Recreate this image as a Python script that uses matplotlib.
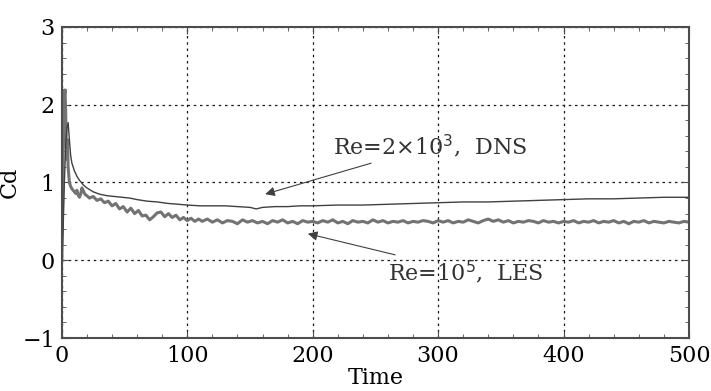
import numpy as np
import matplotlib
matplotlib.use('Agg')
import matplotlib.pyplot as plt
from matplotlib.ticker import MultipleLocator

# DNS, Re = 2x10^3
dns_t = [0, 1, 2, 3, 4, 5, 6, 7, 8, 10, 12, 14, 17, 20, 25, 30, 36, 42, 48, 54,
         60, 68, 76, 85, 93, 100, 110, 120, 130, 140, 150, 155, 160, 170, 180, 190,
         200, 220, 240, 260, 280, 300, 320, 340, 360, 380, 400, 420, 440, 460, 480, 500]
dns_cd = [0.0, 0.4, 1.0, 1.45, 1.7, 1.77, 1.55, 1.35, 1.25, 1.15, 1.08, 1.03, 0.97, 0.93, 0.88, 0.85, 0.83, 0.82, 0.81, 0.80,
          0.78, 0.76, 0.75, 0.73, 0.72, 0.71, 0.70, 0.70, 0.70, 0.69, 0.68, 0.66, 0.68, 0.69, 0.69, 0.70,
          0.70, 0.71, 0.71, 0.72, 0.73, 0.74, 0.75, 0.75, 0.76, 0.77, 0.78, 0.79, 0.79, 0.80, 0.81, 0.81]

# LES, Re = 10^5
les_t = [0, 0.5, 1, 1.5, 2, 2.5, 3, 3.5, 4, 4.5, 5, 6, 7, 8, 9, 10, 11, 12, 13, 14, 15, 16, 17, 18, 19, 20,
         22, 25, 28, 31, 34, 37, 40, 43, 46, 49, 52, 55, 58, 61, 64, 67, 70, 73, 76, 79, 82, 85, 88, 91, 94, 97, 100, 103, 106, 109,
         112, 116, 120, 124, 128, 132, 136, 140, 144, 148, 152, 156, 160, 164, 168, 172, 176, 180, 184, 188, 192, 196, 200,
         204, 208, 212, 216, 220, 224, 228, 232, 236, 240, 244, 248, 252, 256, 260, 264, 268, 272, 276, 280, 284, 288, 292, 296, 300,
         304, 308, 312, 316, 320, 324, 328, 332, 336, 340, 344, 348, 352, 356, 360, 364, 368, 372, 376, 380, 384, 388, 392, 396, 400,
         404, 408, 412, 416, 420, 424, 428, 432, 436, 440, 444, 448, 452, 456, 460, 464, 468, 472, 476, 480, 484, 488, 492, 496, 500]
les_cd = [0.0, 0.6, 1.4, 1.9, 2.1, 2.19, 1.95, 1.5, 1.3, 1.55, 1.2, 1.0, 0.95, 0.92, 0.90, 0.88, 0.86, 0.90, 0.84, 0.81, 0.85, 0.93, 0.90, 0.86, 0.84, 0.83,
          0.80, 0.82, 0.77, 0.79, 0.74, 0.76, 0.70, 0.73, 0.66, 0.69, 0.62, 0.67, 0.60, 0.64, 0.57, 0.58, 0.52, 0.56, 0.61, 0.62, 0.56, 0.60, 0.55, 0.58, 0.52, 0.55, 0.51, 0.54, 0.50, 0.53,
          0.50, 0.53, 0.49, 0.52, 0.48, 0.51, 0.50, 0.47, 0.52, 0.49, 0.51, 0.48, 0.50, 0.47, 0.51, 0.49, 0.52, 0.48, 0.50, 0.47, 0.51, 0.49, 0.50,
          0.48, 0.51, 0.49, 0.52, 0.48, 0.50, 0.47, 0.51, 0.49, 0.50, 0.48, 0.52, 0.49, 0.51, 0.48, 0.50, 0.49, 0.51, 0.48, 0.50, 0.49, 0.51, 0.50, 0.48, 0.51,
          0.49, 0.51, 0.48, 0.50, 0.49, 0.52, 0.50, 0.48, 0.51, 0.53, 0.50, 0.52, 0.49, 0.51, 0.48, 0.50, 0.49, 0.51, 0.50, 0.48, 0.51, 0.49, 0.50, 0.48, 0.50,
          0.49, 0.51, 0.48, 0.50, 0.49, 0.51, 0.48, 0.50, 0.49, 0.51, 0.48, 0.50, 0.47, 0.50, 0.49, 0.51, 0.48, 0.50, 0.49, 0.48, 0.50, 0.49, 0.48, 0.50, 0.49]

x_ticks = [0, 100, 200, 300, 400, 500]
y_ticks = [-1, 0, 1, 2, 3]

plt.rcParams['font.family'] = ['DejaVu Serif']

fig = plt.figure(figsize=(7.11, 3.91), dpi=100)
ax = fig.add_axes([0.087, 0.1355, 0.882, 0.7955])

ax.plot(les_t, les_cd, color='0.45', lw=2.2)
ax.plot(dns_t, dns_cd, color='0.25', lw=1.0)

ax.set_xlim(0, 500)
ax.set_ylim(-1, 3)
ax.set_xticks(x_ticks)
ax.set_yticks(y_ticks)
ax.set_yticklabels(['\u22121', '0', '1', '2', '3'])
ax.xaxis.set_minor_locator(MultipleLocator(20))
ax.yaxis.set_minor_locator(MultipleLocator(0.2))
ax.tick_params(which='both', direction='in', top=True, right=True, color='0.3')
ax.tick_params(which='major', length=5, labelsize=16, pad=5)
ax.tick_params(which='minor', length=3)
ax.grid(True, which='major', linestyle=(0, (2, 3)), color='0.1', lw=0.9)
for s in ax.spines.values():
    s.set_linewidth(1.5)
    s.set_color('0.3')

ax.set_xlabel('Time', fontsize=16, labelpad=0)
ax.set_ylabel('Cd', fontsize=16)
ax.yaxis.set_label_coords(-0.066, 0.5)

ax.annotate('Re=2$\\times$10$^3$,  DNS', xy=(160, 0.84), xytext=(216, 1.47),
            fontsize=16, va='center', ha='left', color='0.2',
            arrowprops=dict(arrowstyle='-|>', color='0.25', lw=0.8, mutation_scale=14))
ax.annotate('Re=10$^5$,  LES', xy=(194, 0.35), xytext=(260, -0.15),
            fontsize=16, va='center', ha='left', color='0.2',
            arrowprops=dict(arrowstyle='-|>', color='0.25', lw=0.8, mutation_scale=14))

fig.savefig('out.png', dpi=100)
